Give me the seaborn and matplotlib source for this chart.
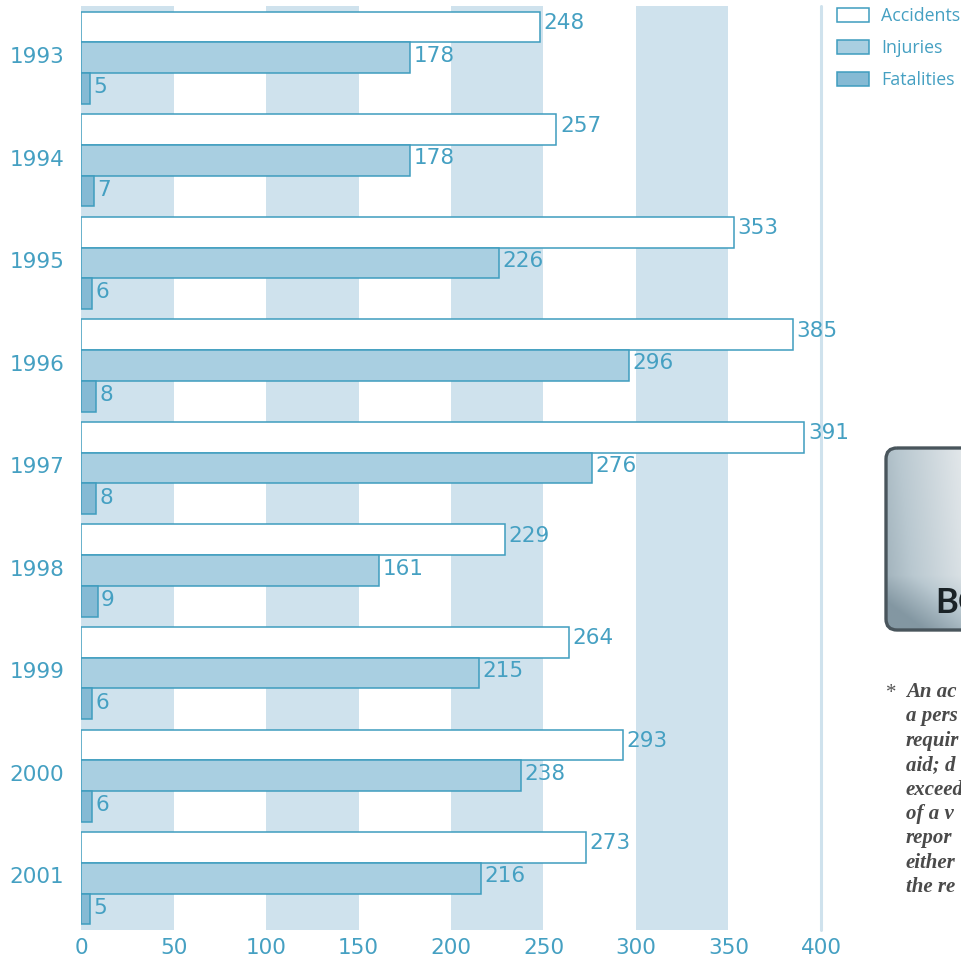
import numpy as np
import pandas as pd
import matplotlib
matplotlib.use("Agg")
import matplotlib.pyplot as plt
from matplotlib.colors import LinearSegmentedColormap
from matplotlib.patches import FancyBboxPatch
from matplotlib.transforms import ScaledTranslation
import seaborn as sns

years = ["1993", "1994", "1995", "1996", "1997", "1998", "1999", "2000", "2001"]
accidents = [248, 257, 353, 385, 391, 229, 264, 293, 273]
injuries = [178, 178, 226, 296, 276, 161, 215, 238, 216]
fatalities = [5, 7, 6, 8, 8, 9, 6, 6, 5]
series_names = ["Accidents", "Injuries", "Fatalities"]
band_starts = [0, 100, 200, 300]
x_ticks = [0, 50, 100, 150, 200, 250, 300, 350, 400]
note_lines = ["An ac", "a pers", "requir", "aid; d", "exceed", "of a v", "repor", "either", "the re"]

TEXT = "#45a0c2"
EDGE = "#3f9dbf"
COLORS = ["#ffffff", "#a9cfe1", "#85bad4"]
W, H = 962, 959

sns.set_theme(style="white")
plt.rcParams["font.family"] = ["DejaVu Sans"]

df = pd.DataFrame({
    "year": years * 3,
    "series": sum([[n] * len(years) for n in series_names], []),
    "value": accidents + injuries + fatalities,
})

fig = plt.figure(figsize=(W / 100, H / 100), dpi=100, facecolor="white")
ax = fig.add_axes([81 / W, 1 - 929.5 / H, (821 - 81) / W, (929.5 - 6.5) / H])

sns.barplot(data=df, y="year", x="value", hue="series", order=years,
            hue_order=series_names, palette=COLORS, width=0.9, gap=0,
            saturation=1, edgecolor=EDGE, linewidth=1.1, ax=ax, zorder=3)

for s in band_starts:
    ax.axvspan(s, s + 50, color="#cfe2ed", lw=0, zorder=1)
ax.axvline(400, color="#cfe2ed", lw=2.2, zorder=1, clip_on=False)

for c, dy in zip(ax.containers, [2.9, 1.4, 0.9]):
    for t in ax.bar_label(c, padding=2.5, color=TEXT, fontsize=15.5, zorder=5):
        t.xyann = (2.5, dy)

ax.set_xlim(0, 400)
ax.set_xticks(x_ticks)
ax.set_xlabel("")
ax.set_ylabel("")
ax.tick_params(axis="both", length=0, labelcolor=TEXT, labelsize=15.5)
ax.tick_params(axis="y", pad=12)
ax.tick_params(axis="x", pad=6)
shift = ScaledTranslation(0, 2 / 72, fig.dpi_scale_trans)
for lab in ax.get_yticklabels():
    lab.set_transform(lab.get_transform() + shift)
sns.despine(ax=ax, left=True, bottom=True, top=True, right=True)

handles, labels = ax.get_legend_handles_labels()
ax.get_legend().remove()
leg = fig.legend(handles, labels, loc="upper left",
                 bbox_to_anchor=(832 / W, 1 - 2 / H), frameon=False,
                 prop={"family": "Open Sans", "size": 12.8},
                 labelcolor=TEXT, handlelength=1.8, handleheight=0.85,
                 handletextpad=0.68, labelspacing=0.78, borderpad=0.3, borderaxespad=0)

# Badge picture (cropped by the right edge)
bax = fig.add_axes([0, 0, 1, 1], zorder=10)
bax.set_xlim(0, W)
bax.set_ylim(H, 0)
bax.axis("off")
bax.patch.set_alpha(0)
cmap = LinearSegmentedColormap.from_list("steel", ["#8397a2", "#b9c8d0", "#e2e7ea"])
xx, yy = np.meshgrid(np.linspace(0, 1, 80), np.linspace(0, 1, 184))
grad = 0.25 + 0.95 * xx + 0.15 * (1 - yy)
grad = grad - 0.55 * np.clip((yy - 0.7) / 0.3, 0, 1)
box = FancyBboxPatch((886, 448), 120, 182, boxstyle="round,pad=0,rounding_size=11",
                     fc="none", ec="#49555c", lw=2.4, zorder=3)
im = bax.imshow(grad, extent=(886, 1006, 630, 448), cmap=cmap, vmin=0, vmax=1,
                aspect="auto", zorder=2, interpolation="bilinear")
bax.add_patch(box)
im.set_clip_path(box)
bax.set_xlim(0, W)
bax.set_ylim(H, 0)
bax.text(935, 603, "BC", family="Lato", weight="bold",
         fontsize=25, color="#1a2226", va="center", ha="left", zorder=4, clip_on=True)

# Footnote (cropped by the right edge)
bax.text(885, 693, "*", family="Liberation Serif", style="italic", color="#555555",
         fontsize=15, va="center")
for i, line in enumerate(note_lines):
    bax.text(906, 692 + i * 24.4, line, family="Liberation Serif", style="italic",
             weight="bold", color="#4a4a4a", fontsize=15, va="center", clip_on=True)

fig.savefig("out.png", dpi=100)
